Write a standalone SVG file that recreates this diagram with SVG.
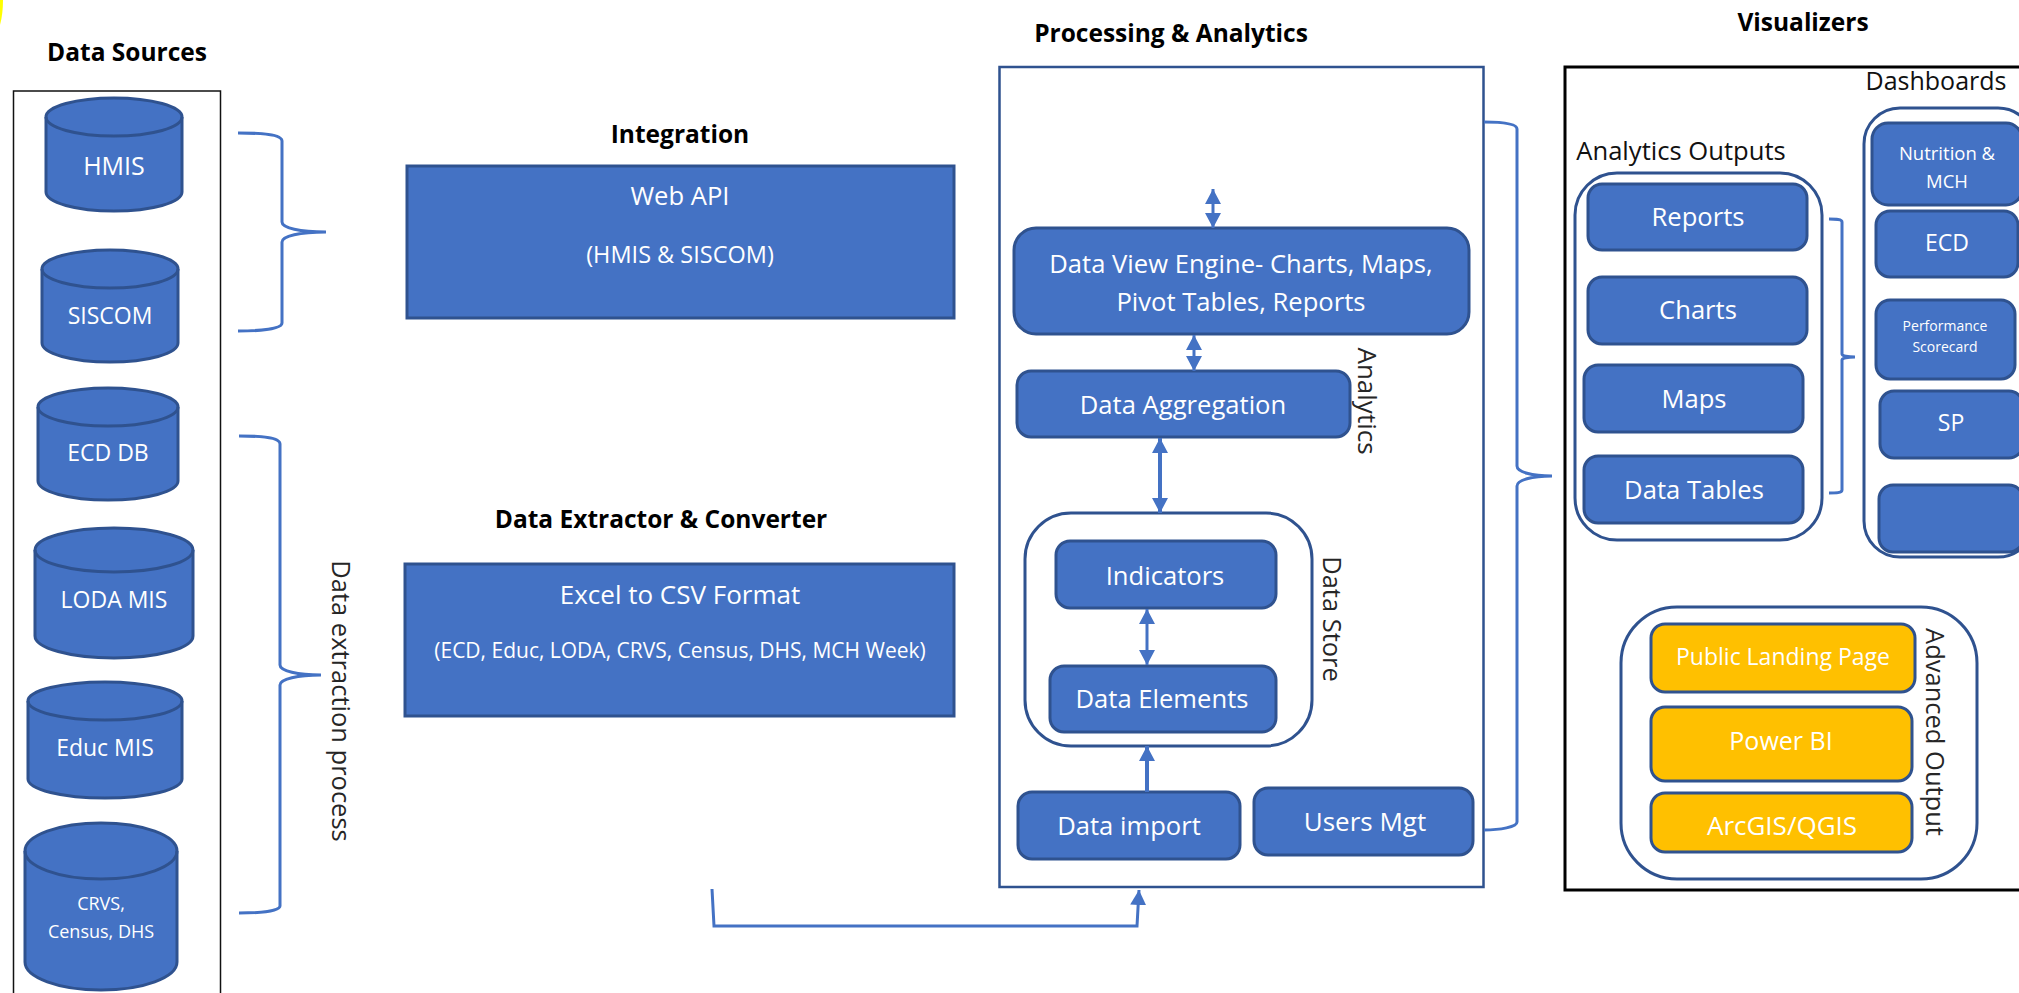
<svg xmlns="http://www.w3.org/2000/svg" width="2019" height="993" viewBox="0 0 2019 993">
<style>
text{font-family:"Open Sans","Noto Sans","Liberation Sans",sans-serif;text-anchor:middle;dominant-baseline:central}
.n{fill:#4472C4;stroke:#2F528F;stroke-width:3}
.o{fill:#FFC000;stroke:#2F528F;stroke-width:3}
.c{fill:#fff;stroke:#2F528F;stroke-width:3}
.w{fill:#fff}
.k{fill:#111}
.h{fill:#000;font-weight:700;font-size:24.5px;dominant-baseline:auto}
.t{fill:#262626;font-size:25.5px}
.b{fill:none;stroke:#4472C4;stroke-width:3}
.a{fill:none;stroke:#4472C4;stroke-width:3}
.e{fill:none;stroke:#2F528F;stroke-width:3}
.s{font-size:25.6px}
.m{font-size:23px}
</style>
<defs>
<marker id="ah" markerUnits="userSpaceOnUse" markerWidth="16" markerHeight="17" refX="15" refY="8" orient="auto-start-reverse"><path d="M0,0L15,8L0,16Z" fill="#4472C4"/></marker>
</defs>
<rect width="2019" height="993" fill="#fff"/>
<path d="M0,0H3Q3,14 0,25Z" fill="#FFFF00"/>

<g id="data-sources">
<text class="h" x="127" y="61">Data Sources</text>
<rect x="13.5" y="91" width="207" height="905" fill="none" stroke="#111" stroke-width="1.5"/>
</g>
<g id="hmis"><path class="n" d="M46,117A68,19 0 0 1 182,117V192A68,19 0 0 1 46,192Z"/><path class="e" d="M46,117A68,19 0 0 0 182,117"/><text class="w" font-size="25" x="114" y="165">HMIS</text></g>
<g id="siscom"><path class="n" d="M42,269A68,19 0 0 1 178,269V343A68,19 0 0 1 42,343Z"/><path class="e" d="M42,269A68,19 0 0 0 178,269"/><text class="w m" x="110" y="315">SISCOM</text></g>
<g id="ecd-db"><path class="n" d="M38,407A70,19 0 0 1 178,407V481A70,19 0 0 1 38,481Z"/><path class="e" d="M38,407A70,19 0 0 0 178,407"/><text class="w m" x="108" y="452">ECD DB</text></g>
<g id="loda-mis"><path class="n" d="M35,550A79,22 0 0 1 193,550V636A79,22 0 0 1 35,636Z"/><path class="e" d="M35,550A79,22 0 0 0 193,550"/><text class="w m" x="114" y="599">LODA MIS</text></g>
<g id="educ-mis"><path class="n" d="M28,701A77,19 0 0 1 182,701V779A77,19 0 0 1 28,779Z"/><path class="e" d="M28,701A77,19 0 0 0 182,701"/><text class="w m" x="105" y="747">Educ MIS</text></g>
<g id="crvs"><path class="n" d="M25,851A76,28 0 0 1 177,851V962A76,28 0 0 1 25,962Z"/><path class="e" d="M25,851A76,28 0 0 0 177,851"/><text class="w" font-size="18" x="101" y="903">CRVS,</text><text class="w" font-size="18" x="101" y="931">Census, DHS</text></g>

<g id="integration"><text class="h" x="680" y="143">Integration</text><rect class="n" x="407" y="166" width="547" height="152"/><text class="w s" x="680" y="195">Web API</text><text class="w" font-size="23.5" x="680" y="254">(HMIS &amp; SISCOM)</text></g>
<g id="extractor"><text class="h" x="661" y="528">Data Extractor &amp; Converter</text><rect class="n" x="405" y="564" width="549" height="152"/><text class="w" font-size="26" x="680" y="594">Excel to CSV Format</text><text class="w" font-size="21" x="680" y="650">(ECD, Educ, LODA, CRVS, Census, DHS, MCH Week)</text></g>

<g id="processing"><text class="h" x="1171" y="42">Processing &amp; Analytics</text><rect x="999.5" y="67" width="484" height="820" fill="none" stroke="#2F528F" stroke-width="2.5"/></g>
<g id="data-view"><rect class="n" x="1014" y="228" width="455" height="106" rx="22"/><text class="w s" x="1241" y="263">Data View Engine- Charts, Maps,</text><text class="w s" x="1241" y="301">Pivot Tables, Reports</text></g>
<g id="aggregation"><rect class="n" x="1017" y="371" width="333" height="66" rx="14"/><text class="w s" x="1183" y="404">Data Aggregation</text></g>
<text class="t" style="font-size:26px" transform="translate(1368,401) rotate(90)">Analytics</text>
<g id="data-store"><rect class="c" x="1025" y="513" width="287" height="233" rx="46"/><text class="t" transform="translate(1333,619) rotate(90)">Data Store</text></g>
<g id="indicators"><rect class="n" x="1056" y="541" width="220" height="67" rx="14"/><text class="w s" x="1165" y="575">Indicators</text></g>
<g id="data-elements"><rect class="n" x="1050" y="666" width="226" height="66" rx="14"/><text class="w s" x="1162" y="698">Data Elements</text></g>
<g id="data-import"><rect class="n" x="1018" y="792" width="222" height="67" rx="14"/><text class="w s" x="1129" y="825">Data import</text></g>
<g id="users-mgt"><rect class="n" x="1254" y="788" width="219" height="67" rx="14"/><text class="w" font-size="26" x="1365" y="821">Users Mgt</text></g>

<g id="visualizers"><text class="h" x="1803" y="31">Visualizers</text><rect x="1565" y="67" width="470" height="823" fill="none" stroke="#000" stroke-width="3"/></g>
<g id="analytics-outputs"><text class="k" font-size="25.6" x="1681" y="150">Analytics Outputs</text><rect class="c" x="1575" y="173" width="247" height="367" rx="42"/></g>
<g id="reports"><rect class="n" x="1588" y="184" width="219" height="66" rx="14"/><text class="w s" x="1698" y="216">Reports</text></g>
<g id="charts"><rect class="n" x="1588" y="277" width="219" height="67" rx="14"/><text class="w s" x="1698" y="309">Charts</text></g>
<g id="maps"><rect class="n" x="1584" y="365" width="219" height="67" rx="14"/><text class="w s" x="1694" y="398">Maps</text></g>
<g id="data-tables"><rect class="n" x="1584" y="456" width="219" height="67" rx="14"/><text class="w s" x="1694" y="489">Data Tables</text></g>
<g id="dashboards"><text class="k" font-size="25" x="1936" y="80">Dashboards</text><rect class="c" x="1864" y="108" width="170" height="449" rx="36"/></g>
<g id="nutrition"><rect class="n" x="1872" y="123" width="150" height="82" rx="16"/><text class="w" font-size="18.5" x="1947" y="152">Nutrition &amp;</text><text class="w" font-size="18.5" x="1947" y="180">MCH</text></g>
<g id="ecd"><rect class="n" x="1876" y="211" width="142" height="66" rx="14"/><text class="w m" x="1947" y="242">ECD</text></g>
<g id="performance"><rect class="n" x="1876" y="300" width="139" height="79" rx="14"/><text class="w" font-size="14" x="1945" y="325">Performance</text><text class="w" font-size="14" x="1945" y="346">Scorecard</text></g>
<g id="sp"><rect class="n" x="1880" y="391" width="143" height="67" rx="14"/><text class="w m" x="1951" y="422">SP</text></g>
<g id="blank"><rect class="n" x="1879" y="485" width="144" height="67" rx="14"/></g>
<g id="advanced-output"><rect class="c" x="1621" y="607" width="356" height="272" rx="56"/><text class="t" transform="translate(1936,732) rotate(90)">Advanced Output</text></g>
<g id="public-landing"><rect class="o" x="1651" y="624" width="264" height="68" rx="14"/><text class="w" font-size="23" x="1783" y="656">Public Landing Page</text></g>
<g id="power-bi"><rect class="o" x="1651" y="707" width="261" height="74" rx="14"/><text class="w" font-size="25" x="1781" y="740">Power BI</text></g>
<g id="arcgis"><rect class="o" x="1651" y="793" width="261" height="59" rx="14"/><text class="w" font-size="26" x="1782" y="825">ArcGIS/QGIS</text></g>

<g id="connectors">
<text class="t" transform="translate(342,701) rotate(90)">Data extraction process</text>
<path class="b" d="M238,133C260,133 282,134 282,141V222C282,228 300,232 326,232C300,232 282,236 282,242V323C282,329 260,331 238,331"/>
<path class="b" d="M239,436C260,436 280,437 280,444V665C280,671 298,675 321,675C298,675 280,679 280,685V906C280,911 260,913 239,913"/>
<path class="b" d="M1484,122C1500,122 1517,123 1517,129V466C1517,472 1532,476 1552,476C1532,476 1517,480 1517,486V822C1517,827 1500,830 1484,830"/>
<path class="b" d="M1829,219C1836,219 1842,219 1842,222V354C1842,356 1848,357 1855,357C1848,357 1842,358 1842,360V490C1842,493 1836,493 1829,493"/>
<line class="a" x1="1213" y1="189" x2="1213" y2="228" marker-start="url(#ah)" marker-end="url(#ah)"/>
<line class="a" x1="1194" y1="335" x2="1194" y2="371" marker-start="url(#ah)" marker-end="url(#ah)"/>
<line class="a" style="stroke-width:4" x1="1160" y1="438" x2="1160" y2="513" marker-start="url(#ah)" marker-end="url(#ah)"/>
<line class="a" x1="1147" y1="609" x2="1147" y2="665" marker-start="url(#ah)" marker-end="url(#ah)"/>
<line class="a" style="stroke-width:4" x1="1147" y1="792" x2="1147" y2="746" marker-end="url(#ah)"/>
<path class="a" d="M712,889L714,926H1137L1139,890" marker-end="url(#ah)"/>
</g>
</svg>
